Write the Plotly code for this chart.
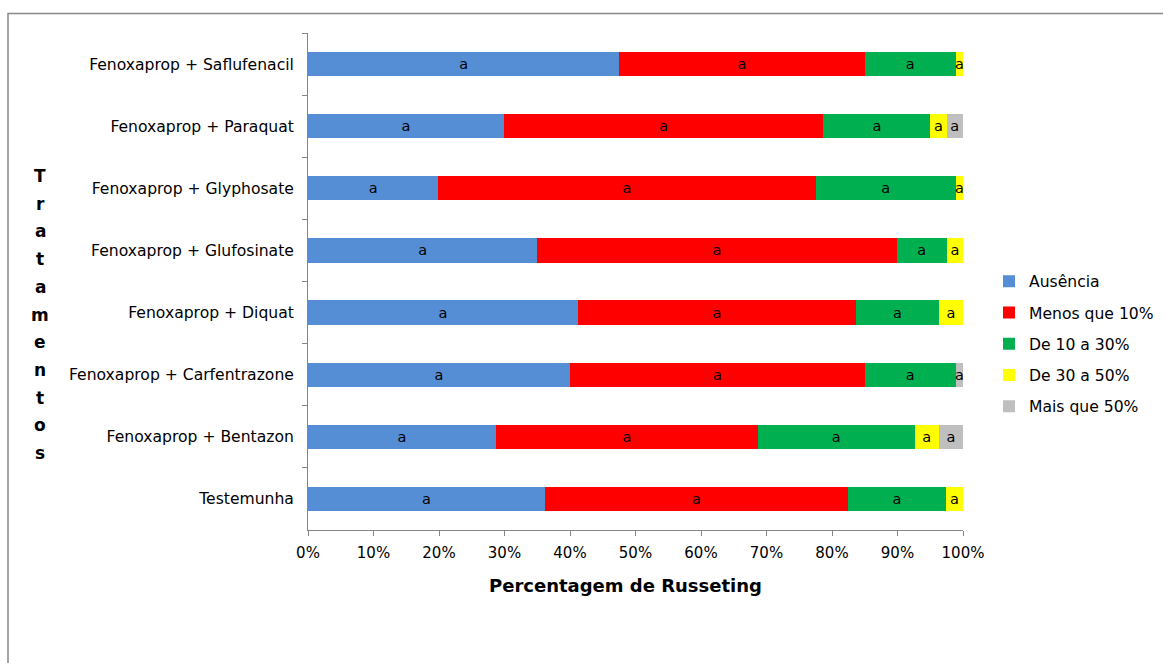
import plotly.graph_objects as go

# Treatments, listed top to bottom
tratamentos = [
    "Fenoxaprop + Saflufenacil",
    "Fenoxaprop + Paraquat",
    "Fenoxaprop + Glyphosate",
    "Fenoxaprop + Glufosinate",
    "Fenoxaprop + Diquat",
    "Fenoxaprop + Carfentrazone",
    "Fenoxaprop + Bentazon",
    "Testemunha",
]

# Share of fruits (%) in each russeting class
ausencia = [47.5, 29.9, 19.9, 35.0, 41.2, 40.0, 28.7, 36.2]
menos_10 = [37.5, 48.8, 57.6, 54.9, 42.5, 45.0, 40.0, 46.2]
de_10_30 = [13.9, 16.3, 21.4, 7.6, 12.6, 13.9, 23.9, 15.0]
de_30_50 = [1.1, 2.5, 1.1, 2.5, 3.7, 0.0, 3.7, 2.6]
mais_50 = [0.0, 2.5, 0.0, 0.0, 0.0, 1.1, 3.7, 0.0]

# Statistical letters shown inside each segment
letras = ["a"] * len(tratamentos)

series = [
    ("Ausência", ausencia, "#558ED5"),
    ("Menos que 10%", menos_10, "#FF0000"),
    ("De 10 a 30%", de_10_30, "#00B050"),
    ("De 30 a 50%", de_30_50, "#FFFF00"),
    ("Mais que 50%", mais_50, "#BFBFBF"),
]

x_ticks = [0, 10, 20, 30, 40, 50, 60, 70, 80, 90, 100]
x_tick_labels = [f"{t}%" for t in x_ticks]

FONT = "DejaVu Sans, Liberation Sans, Arial, sans-serif"

# Plot-area geometry in pixels
L, R, T, B = 308, 200, 33, 133
PW, PH = 1163 - L - R, 663 - T - B


def px_x(x):
    return (x - L) / PW


def px_y(y):
    return 1 - (y - T) / PH


fig = go.Figure()
for nome, valores, cor in series:
    fig.add_trace(go.Bar(
        name=nome,
        y=tratamentos,
        x=valores,
        orientation="h",
        marker=dict(color=cor, line=dict(width=0)),
        text=[l if v > 0 else "" for l, v in zip(letras, valores)],
        textposition="inside",
        insidetextanchor="middle",
        textangle=0,
        textfont=dict(family=FONT, size=14.5, color="black"),
        legendgroup=nome,
        hoverinfo="skip",
    ))

fig.update_layout(
    width=1163,
    height=663,
    barmode="stack",
    bargap=0.61,
    plot_bgcolor="white",
    paper_bgcolor="white",
    margin=dict(l=L, r=R, t=T, b=B, autoexpand=False),
    font=dict(family=FONT, size=15, color="black"),
    uniformtext=dict(minsize=14.5, mode="show"),
    legend=dict(
        x=px_x(989), y=px_y(344), xanchor="left", yanchor="middle",
        traceorder="grouped",
        tracegroupgap=8,
        font=dict(family=FONT, size=15.6, color="black"),
        itemwidth=30,
    ),
    xaxis=dict(
        range=[0, 100],
        tickvals=x_ticks,
        ticktext=x_tick_labels,
        ticks="outside",
        ticklen=5,
        tickcolor="#868686",
        showline=True,
        linecolor="#868686",
        linewidth=1,
        showgrid=False,
        zeroline=False,
        tickfont=dict(family=FONT, size=15),
        ticklabelstandoff=4,
    ),
    yaxis=dict(
        autorange="reversed",
        tickson="boundaries",
        ticks="outside",
        ticklen=5,
        tickcolor="#868686",
        showline=True,
        linecolor="#868686",
        linewidth=1,
        showgrid=False,
        tickfont=dict(family=FONT, size=15.6),
        ticklabelstandoff=10,
    ),
)

# Horizontal axis title
fig.add_annotation(
    text="<b>Percentagem de Russeting</b>",
    xref="paper", yref="paper",
    x=px_x(625), y=px_y(585),
    xanchor="center", yanchor="middle",
    showarrow=False,
    font=dict(family=FONT, size=18, color="black"),
)

# Vertical, letter-by-letter axis title
titulo_y = "Tratamentos"
y_topo, passo = 176, 27.7
for i, letra in enumerate(titulo_y):
    fig.add_annotation(
        text=f"<b>{letra}</b>",
        xref="paper", yref="paper",
        x=px_x(40), y=px_y(y_topo + i * passo),
        xanchor="center", yanchor="middle",
        showarrow=False,
        font=dict(family=FONT, size=17, color="black"),
    )

# Outer chart frame
fig.add_shape(
    type="rect", xref="paper", yref="paper",
    x0=px_x(8), x1=px_x(1180),
    y0=px_y(700), y1=px_y(13.5),
    line=dict(color="#888888", width=1.5),
    fillcolor="rgba(0,0,0,0)",
    layer="below",
)

fig.write_html("out.html")
